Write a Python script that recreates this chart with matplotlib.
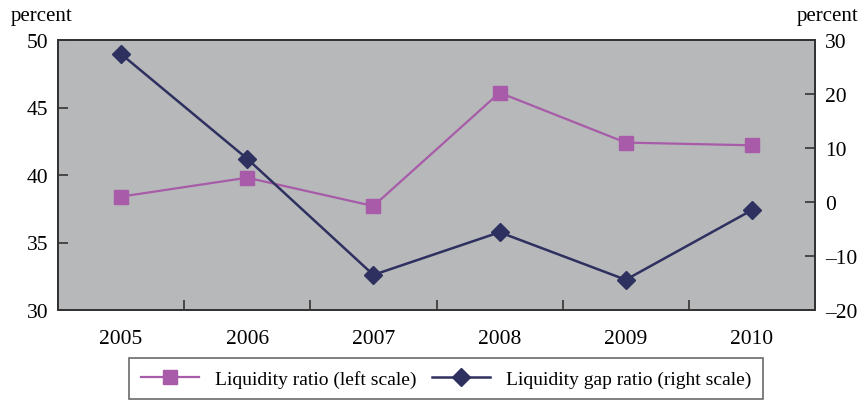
import matplotlib.pyplot as plt
import numpy as np

years = ["2005", "2006", "2007", "2008", "2009", "2010"]
liquidity_ratio = [38.4, 39.8, 37.7, 46.1, 42.4, 42.2]
liquidity_gap = [27.4, 8.0, -13.5, -5.6, -14.4, -1.5]
left_ticks = [30, 35, 40, 45, 50]
right_ticks = [-20, -10, 0, 10, 20, 30]

plt.rcParams["font.family"] = ["Liberation Serif", "DejaVu Serif"]

fig = plt.figure(figsize=(8.6, 4.02), dpi=100)
ax = fig.add_axes([58 / 860, 1 - 311 / 402, 757 / 860, 270 / 402])
ax2 = ax.twinx()

x = np.arange(len(years))
purple = "#a75ba8"
navy = "#2e3060"

ax.set_facecolor("#b7b8ba")
ax.plot(x, liquidity_ratio, color=purple, lw=1.6, marker="s", ms=10,
        label="Liquidity ratio (left scale)")
ax2.plot(x, liquidity_gap, color=navy, lw=1.8, marker="D", ms=9,
         label="Liquidity gap ratio (right scale)")

ax.set_xlim(-0.5, 5.5)
ax.set_ylim(30, 50)
ax2.set_ylim(-20, 30)
ax.set_yticks(left_ticks)
ax2.set_yticks(right_ticks)
ax2.set_yticklabels([str(t).replace("-", "\u2013") for t in right_ticks])

ax.set_xticks(x)
ax.set_xticklabels(years)
ax.set_xticks(np.arange(-0.5, 6, 1), minor=True)
ax.tick_params(axis="x", which="major", length=0, pad=14, labelsize=15.5)
ax.tick_params(axis="x", which="minor", direction="in", length=7, width=1.2, color="#333333")
ax.tick_params(axis="y", direction="in", length=7, width=1.2, color="#333333", labelsize=15.5, pad=7)
ax2.tick_params(axis="y", direction="in", length=7, width=1.2, color="#333333", labelsize=15.5, pad=7)

for a in (ax, ax2):
    for s in a.spines.values():
        s.set_color("#333333")
        s.set_linewidth(1.3)

fig.text(11 / 860, 1 - 17 / 402, "percent", fontsize=15, va="center", ha="left")
fig.text(858 / 860, 1 - 17 / 402, "percent", fontsize=15, va="center", ha="right")

h1, l1 = ax.get_legend_handles_labels()
h2, l2 = ax2.get_legend_handles_labels()
leg = fig.legend(h1 + h2, l1 + l2, loc="lower center", bbox_to_anchor=(446 / 860, -0.02),
                 ncol=2, fontsize=14, frameon=True, fancybox=False, handlelength=3,
                 columnspacing=0.8, borderpad=0.6)
leg.get_frame().set_edgecolor("#444444")
leg.get_frame().set_linewidth(1.2)

plt.savefig("out.png", dpi=100)
